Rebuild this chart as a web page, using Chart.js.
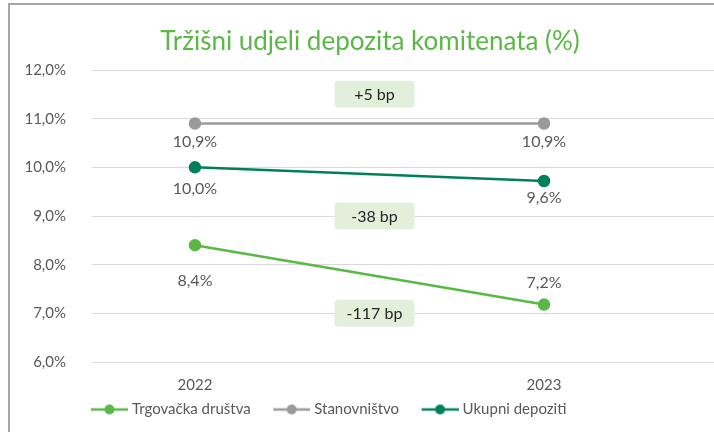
<!DOCTYPE html>
<html>
<head>
<meta charset="utf-8">
<script src="https://cdn.jsdelivr.net/npm/chart.js@4.4.0/dist/chart.umd.min.js"></script>
<style>
  html, body { margin: 0; padding: 0; background: #ffffff; }
  #wrap { position: relative; width: 714px; height: 432px; overflow: hidden; }
  #frame { position: absolute; left: 8px; top: 3px; width: 720px; height: 440px;
           border-top: 2px solid #a6a6a6; border-left: 2px solid #a6a6a6; }
  canvas { position: absolute; left: 0; top: 0; }
</style>
</head>
<body>
<div id="wrap">
  <div id="frame"></div>
  <canvas id="c" width="714" height="432"></canvas>
</div>
<script>
// ---- data ----
const years = [2022, 2023];
const seriesNames = ['Trgovačka društva', 'Stanovništvo', 'Ukupni depoziti'];
const trgovackaDrustva = [8.4, 7.18];
const stanovnistvo = [10.9, 10.9];
const ukupniDepoziti = [10.0, 9.72];
const trgovackaLabels = ['8,4%', '7,2%'];
const stanovnistvoLabels = ['10,9%', '10,9%'];
const ukupniLabels = ['10,0%', '9,6%'];
const changeLabels = ['+5 bp', '-38 bp', '-117 bp'];
const changeLevels = [11.5, 9.0, 7.0];
const yTicks = [6, 7, 8, 9, 10, 11, 12];
const titleText = 'Tržišni udjeli depozita komitenata (%)';

// ---- styles ----
const colors = ['#5ab946', '#9a9a9c', '#00805a'];
const labelOffsets = [[36, -22], [18, 18], [22, 17]];
const FONT = 'Lato';
Chart.defaults.font.family = FONT;

function makeMarker(color) {
  const c = document.createElement('canvas');
  c.width = 53; c.height = 12;
  const g = c.getContext('2d');
  g.strokeStyle = color; g.lineWidth = 2.5;
  g.beginPath(); g.moveTo(16, 6); g.lineTo(53, 6); g.stroke();
  g.fillStyle = color;
  g.beginPath(); g.arc(34.5, 6, 5, 0, Math.PI * 2); g.fill();
  return c;
}

const datasetLabels = [trgovackaLabels, stanovnistvoLabels, ukupniLabels];

const labelsPlugin = {
  id: 'pointLabels',
  afterDatasetsDraw(chart) {
    const ctx = chart.ctx;
    ctx.save();
    ctx.font = '16px ' + FONT;
    ctx.fillStyle = '#595959';
    ctx.textAlign = 'center';
    ctx.textBaseline = 'middle';
    chart.data.datasets.forEach((ds, di) => {
      const meta = chart.getDatasetMeta(di);
      meta.data.forEach((pt, i) => {
        ctx.fillText(datasetLabels[di][i], pt.x, pt.y + labelOffsets[di][i]);
      });
    });
    const xs = chart.scales.x, ys = chart.scales.y;
    const cx = (xs.getPixelForValue(years[0]) + xs.getPixelForValue(years[1])) / 2 + 5;
    changeLabels.forEach((t, i) => {
      const cy = ys.getPixelForValue(changeLevels[i]);
      const w = 80, h = 27, r = 4;
      ctx.fillStyle = '#e2efda';
      ctx.beginPath();
      ctx.roundRect(cx - w / 2, cy - h / 2, w, h, r);
      ctx.fill();
      ctx.fillStyle = '#262626';
      ctx.font = '16px ' + FONT;
      ctx.fillText(t, cx, cy + 1);
    });
    ctx.restore();
  },
  beforeDraw(chart) {
    if (chart.legend) chart.legend.left = 68.5;
  }
};

new Chart(document.getElementById('c'), {
  type: 'line',
  data: {
    datasets: [
      { label: seriesNames[0], data: years.map((y, i) => ({ x: y, y: trgovackaDrustva[i] })) },
      { label: seriesNames[1], data: years.map((y, i) => ({ x: y, y: stanovnistvo[i] })) },
      { label: seriesNames[2], data: years.map((y, i) => ({ x: y, y: ukupniDepoziti[i] })) }
    ].map((d, i) => Object.assign(d, {
      borderColor: colors[i], backgroundColor: colors[i],
      pointBackgroundColor: colors[i], pointBorderColor: colors[i],
      borderWidth: 2.5, pointRadius: 5, pointHoverRadius: 5, tension: 0
    }))
  },
  options: {
    responsive: false,
    devicePixelRatio: 1,
    animation: false,
    layout: { autoPadding: false, padding: { left: 26, right: 0, top: 0, bottom: 5 } },
    scales: {
      x: {
        type: 'linear',
        min: 2021.705, max: 2023.487,
        afterBuildTicks(scale) { scale.ticks = years.map(v => ({ value: v })); },
        afterFit(scale) { scale.height = 30; scale.paddingLeft = 0; scale.paddingRight = 0; },
        grid: { display: false },
        border: { display: false },
        ticks: { color: '#595959', font: { size: 15 }, padding: 6, autoSkip: false,
                 maxRotation: 0, callback: v => String(v) }
      },
      y: {
        min: 6, max: 12,
        afterBuildTicks(scale) { scale.ticks = yTicks.map(v => ({ value: v })); },
        afterFit(scale) { scale.width = 66; },
        grid: { color: '#d9d9d9', lineWidth: 1, drawTicks: false },
        border: { display: false },
        ticks: { color: '#595959', font: { size: 15 }, padding: 26,
                 callback: v => v.toFixed(1).replace('.', ',') + '%' }
      }
    },
    plugins: {
      title: {
        display: true, text: titleText, color: '#5ab946',
        font: { size: 26, weight: 'normal' },
        padding: { top: 26, bottom: 12.8 }
      },
      legend: {
        position: 'bottom', align: 'start',
        labels: {
          usePointStyle: true, pointStyleWidth: 46, padding: 10,
          color: '#595959', font: { size: 15 },
          generateLabels(chart) {
            const items = Chart.defaults.plugins.legend.labels.generateLabels(chart);
            items.forEach((it, i) => { it.pointStyle = makeMarker(colors[i]); });
            return items;
          }
        }
      },
      tooltip: { enabled: false }
    }
  },
  plugins: [labelsPlugin]
});
</script>
</body>
</html>
